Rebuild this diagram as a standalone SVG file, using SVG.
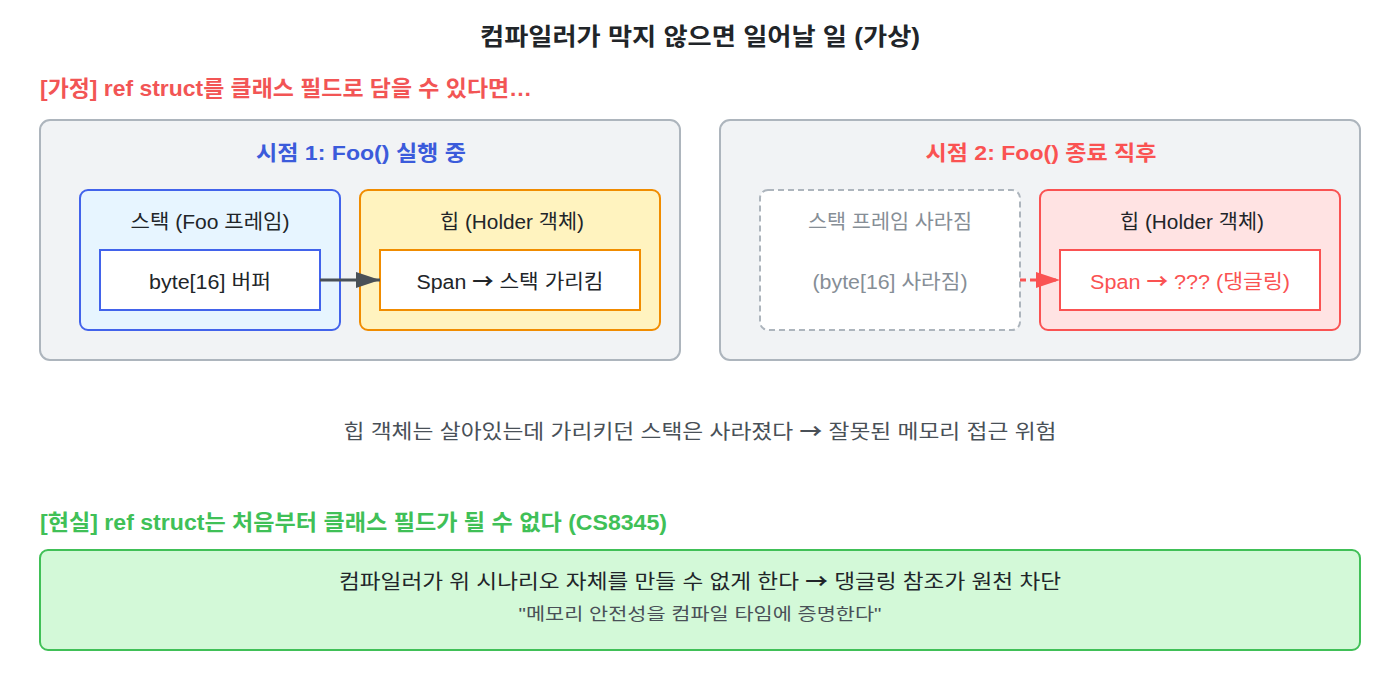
<svg xmlns="http://www.w3.org/2000/svg" width="1400" height="680" viewBox="0 0 1400 680">
<style>
text { font-family: "Liberation Sans", "Noto Sans CJK KR", sans-serif; }
.ar { font-family: "Noto Sans CJK KR", sans-serif; font-weight: bold; }
.title { font-size: 24px; font-weight: bold; fill: #212529; }
.sec { font-size: 22px; font-weight: bold; }
.panel { fill: #f1f3f5; stroke: #adb5bd; stroke-width: 2; }
.ptitle { font-size: 21px; font-weight: bold; }
.lbl { font-size: 20px; fill: #212529; }
.inner { fill: #ffffff; stroke-width: 2; }
</style>
<defs>
<marker id="arrDark" viewBox="0 0 24 16" refX="24" refY="8" markerWidth="24" markerHeight="16" markerUnits="userSpaceOnUse" orient="auto"><path d="M0,0 L24,8 L0,16 z" fill="#495057"/></marker>
<marker id="arrRed" viewBox="0 0 24 16" refX="24" refY="8" markerWidth="24" markerHeight="16" markerUnits="userSpaceOnUse" orient="auto"><path d="M0,0 L24,8 L0,16 z" fill="#fa5252"/></marker>
</defs>
<rect width="1400" height="680" fill="#ffffff"/>
<text class="title" x="700" y="45" text-anchor="middle" textLength="440" lengthAdjust="spacingAndGlyphs">컴파일러가 막지 않으면 일어날 일 (가상)</text>
<text class="sec" x="40" y="96" fill="#f25555" textLength="492" lengthAdjust="spacingAndGlyphs">[가정] ref struct를 클래스 필드로 담을 수 있다면…</text>

<g id="panel1">
<rect class="panel" x="40" y="120" width="640" height="240" rx="10"/>
<text class="ptitle" x="361" y="160" text-anchor="middle" fill="#3b5bdb" textLength="210" lengthAdjust="spacingAndGlyphs">시점 1: Foo() 실행 중</text>
</g>
<g id="stack1">
<rect x="80" y="190" width="260" height="140" rx="8" fill="#e7f5ff" stroke="#4263eb" stroke-width="2"/>
<text class="lbl" x="210" y="229" text-anchor="middle" textLength="159" lengthAdjust="spacingAndGlyphs">스택 (Foo 프레임)</text>
</g>
<g id="buffer1">
<rect class="inner" x="100" y="250" width="220" height="60" stroke="#4263eb"/>
<text class="lbl" x="210" y="289" text-anchor="middle" textLength="122" lengthAdjust="spacingAndGlyphs">byte[16] 버퍼</text>
</g>
<g id="heap1">
<rect x="360" y="190" width="300" height="140" rx="8" fill="#fff3bf" stroke="#f08c00" stroke-width="2"/>
<text class="lbl" x="512" y="229" text-anchor="middle" textLength="144" lengthAdjust="spacingAndGlyphs">힙 (Holder 객체)</text>
</g>
<g id="span1">
<rect class="inner" x="380" y="250" width="260" height="60" stroke="#f08c00"/>
<text class="lbl" x="510" y="289" text-anchor="middle" textLength="187" lengthAdjust="spacingAndGlyphs">Span <tspan class="ar">→</tspan> 스택 가리킴</text>
</g>

<g id="panel2">
<rect class="panel" x="720" y="120" width="640" height="240" rx="10"/>
<text class="ptitle" x="1041" y="160" text-anchor="middle" fill="#fa5252" textLength="231" lengthAdjust="spacingAndGlyphs">시점 2: Foo() 종료 직후</text>
</g>
<g id="stack2">
<rect x="760" y="190" width="260" height="140" rx="8" fill="#ffffff" stroke="#adb5bd" stroke-width="2" stroke-dasharray="6 4"/>
<text class="lbl" x="890" y="229" text-anchor="middle" style="fill:#868e96" textLength="164" lengthAdjust="spacingAndGlyphs">스택 프레임 사라짐</text>
<text class="lbl" x="890" y="289" text-anchor="middle" style="fill:#868e96" textLength="155" lengthAdjust="spacingAndGlyphs">(byte[16] 사라짐)</text>
</g>
<g id="heap2">
<rect x="1040" y="190" width="300" height="140" rx="8" fill="#ffe3e3" stroke="#fa5252" stroke-width="2"/>
<text class="lbl" x="1192" y="229" text-anchor="middle" textLength="144" lengthAdjust="spacingAndGlyphs">힙 (Holder 객체)</text>
</g>
<g id="span2">
<rect class="inner" x="1060" y="250" width="260" height="60" stroke="#fa5252"/>
<text class="lbl" x="1190" y="289" text-anchor="middle" style="fill:#fa5252" textLength="200" lengthAdjust="spacingAndGlyphs">Span <tspan class="ar">→</tspan> ??? (댕글링)</text>
</g>

<g id="connectors">
<line x1="320" y1="280" x2="380" y2="280" stroke="#495057" stroke-width="3" marker-end="url(#arrDark)"/>
<line x1="1020" y1="280" x2="1060" y2="280" stroke="#fa5252" stroke-width="3" stroke-dasharray="6 4" marker-end="url(#arrRed)"/>
</g>

<text x="700" y="439" text-anchor="middle" style="font-size:20px;fill:#495057" textLength="713" lengthAdjust="spacingAndGlyphs">힙 객체는 살아있는데 가리키던 스택은 사라졌다 <tspan class="ar">→</tspan> 잘못된 메모리 접근 위험</text>

<text class="sec" x="40" y="530" fill="#40c057" textLength="627" lengthAdjust="spacingAndGlyphs">[현실] ref struct는 처음부터 클래스 필드가 될 수 없다 (CS8345)</text>
<g id="reality">
<rect x="40" y="550" width="1320" height="100" rx="8" fill="#d3f9d8" stroke="#40c057" stroke-width="2"/>
<text x="700" y="589" text-anchor="middle" style="font-size:20px;fill:#212529" textLength="722" lengthAdjust="spacingAndGlyphs">컴파일러가 위 시나리오 자체를 만들 수 없게 한다 <tspan class="ar">→</tspan> 댕글링 참조가 원천 차단</text>
<text x="700" y="620" text-anchor="middle" style="font-size:17px;fill:#495057" textLength="363" lengthAdjust="spacingAndGlyphs">"메모리 안전성을 컴파일 타임에 증명한다"</text>
</g>
</svg>
